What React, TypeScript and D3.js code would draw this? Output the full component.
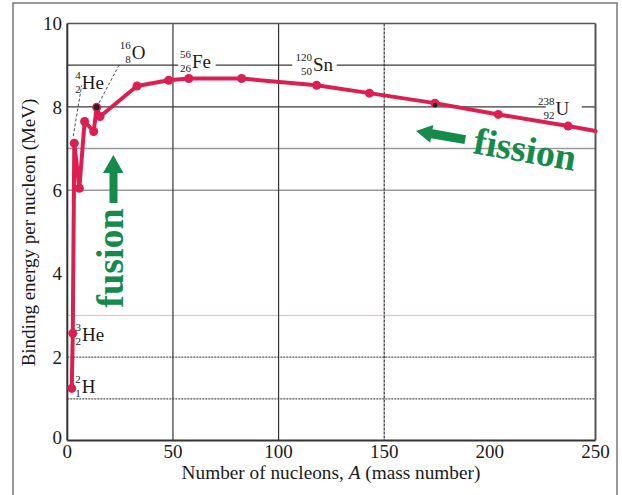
import React from "react";
import * as d3 from "d3";

// ---- data ----
const massNumber = [2.1, 2.6, 3.3, 5.7, 8.2, 12.5, 13.9, 15.5, 33, 48, 57.5, 82.5, 118, 143, 174, 204, 237, 250];
const bindingEnergy = [1.25, 2.57, 7.13, 6.05, 7.65, 7.41, 7.99, 7.77, 8.5, 8.64, 8.68, 8.68, 8.52, 8.33, 8.09, 7.82, 7.54, 7.42];
const hasMarker = [1, 1, 1, 1, 1, 1, 1, 1, 1, 1, 1, 1, 1, 1, 1, 1, 1, 0];

const xTicks = [0, 50, 100, 150, 200, 250];
const yTicks = [0, 2, 4, 6, 8, 10];
const hGridValues = [1, 2, 3, 6, 7, 8, 9];
const vGridValues = [50, 100, 150];

const nuclideSymbol = ["H", "He", "He", "O", "Fe", "Sn", "U"];
const nuclideMass = ["2", "3", "4", "16", "56", "120", "238"];
const nuclideCharge = ["1", "2", "2", "8", "26", "50", "92"];

const xTitle = "Number of nucleons, ";
const yTitle = "Binding energy per nucleon (MeV)";

// ---- layout ----
const W = 622;
const H = 495;
const X0 = 67.3, X1 = 595.5, Y0 = 440.5, Y1 = 23.5;
const RED = "#dc1f50";
const GREEN = "#148a4b";
const FONT = "'Liberation Serif', 'Times New Roman', serif";

// label anchors in data coordinates (symbol start x, baseline y)
const labelA = [6.8, 7.0, 6.8, 30.5, 59.0, 116.3, 231.1];
const labelE = [1.13, 2.39, 8.42, 9.14, 8.93, 8.85, 7.81];

export default function App() {
  const x = d3.scaleLinear().domain([0, 250]).range([X0, X1]);
  const y = d3.scaleLinear().domain([0, 10]).range([Y0, Y1]);
  const pts = massNumber.map((a, i) => [a, bindingEnergy[i]] as [number, number]);
  const line = d3.line<[number, number]>().x((d) => x(d[0])).y((d) => y(d[1]));

  const gridStyle = (v: number) => {
    if (v === 3) return { stroke: "#e8b4c2", strokeWidth: 1 };
    if (v === 6 || v === 7) return { stroke: "#9a9a9a", strokeWidth: 1.5 };
    if (v === 8 || v === 9) return { stroke: "#3a3a3a", strokeWidth: 1.2 };
    return { stroke: "#555", strokeWidth: 1.2, strokeDasharray: "2,1" };
  };

  // white gaps behind labels on grid lines
  const gaps: { a0: number; a1: number; e: number }[] = [
    { a0: 52.5, a1: 70.2, e: 9 },
    { a0: 106.5, a1: 127.5, e: 9 },
    { a0: 226.5, a1: 243.5, e: 8 },
  ];

  const nuclide = (i: number) => {
    const sx = x(labelA[i]);
    const sy = y(labelE[i]);
    return (
      <g key={"n" + i} fontFamily={FONT} fill="#1a1a1a">
        <text x={sx - 1} y={sy - 10} fontSize={11} textAnchor="end">
          {nuclideMass[i]}
        </text>
        <text x={sx - 1} y={sy + 4} fontSize={11} textAnchor="end">
          {nuclideCharge[i]}
        </text>
        <text x={sx} y={sy} fontSize={19}>
          {nuclideSymbol[i]}
        </text>
      </g>
    );
  };

  const o16 = pts[6];
  const he4 = pts[2];

  return (
    <svg
      width={W}
      height={H}
      style={{ position: "absolute", left: 0, top: 0, background: "#fff" }}
    >
      <rect x={0} y={0} width={W} height={H} fill="#fff" />
      {/* outer frame */}
      <rect x={13} y={3} width={604} height={510} fill="none" stroke="#777" strokeWidth={1.5} />

      {/* grid */}
      {hGridValues.map((v) => (
        <line key={"h" + v} x1={X0} x2={X1} y1={y(v)} y2={y(v)} {...gridStyle(v)} />
      ))}
      {vGridValues.map((v) => (
        <line
          key={"v" + v}
          x1={x(v)}
          x2={x(v)}
          y1={Y1}
          y2={Y0}
          stroke="#333"
          strokeWidth={1.2}
          strokeDasharray={v === 150 ? "3,1" : undefined}
        />
      ))}
      {gaps.map((g, i) => (
        <rect key={"g" + i} x={x(g.a0)} y={y(g.e) - 4} width={x(g.a1) - x(g.a0)} height={8} fill="#fff" />
      ))}

      {/* plot frame */}
      <line x1={X0} x2={X1} y1={Y1} y2={Y1} stroke="#555" strokeWidth={1.5} />
      <line x1={X1} x2={X1} y1={Y1} y2={Y0} stroke="#555" strokeWidth={2} />
      <line x1={X0} x2={X0} y1={Y1} y2={Y0} stroke="#333" strokeWidth={2} />
      <line x1={X0} x2={X1} y1={Y0} y2={Y0} stroke="#333" strokeWidth={2} />

      {/* tick labels */}
      {yTicks.map((v) => (
        <text
          key={"yt" + v}
          x={62}
          y={y(v) + (v === 0 ? -3 : 0)}
          dy="0.35em"
          textAnchor="end"
          fontFamily={FONT}
          fontSize={19}
          fill="#1a1a1a"
        >
          {v}
        </text>
      ))}
      {xTicks.map((v) => (
        <text key={"xt" + v} x={x(v)} y={458} textAnchor="middle" fontFamily={FONT} fontSize={19} fill="#1a1a1a">
          {v}
        </text>
      ))}

      {/* axis titles */}
      <text x={331} y={479} textAnchor="middle" fontFamily={FONT} fontSize={19.3} fill="#1a1a1a">
        {xTitle}
        <tspan fontStyle="italic">A</tspan>
        {" (mass number)"}
      </text>
      <text
        transform={`translate(35, ${(97 + 368) / 2}) rotate(-90)`}
        textAnchor="middle"
        fontFamily={FONT}
        fontSize={19}
        fill="#1a1a1a"
      >
        {yTitle}
      </text>

      {/* leader lines */}
      <line x1={x(he4[0]) - 1} y1={y(he4[1]) - 7} x2={x(6.8)} y2={y(8.42) - 4} stroke="#222" strokeWidth={0.8} strokeDasharray="3,2" />
      <line x1={x(o16[0])} y1={y(o16[1])} x2={x(25)} y2={y(9.05)} stroke="#222" strokeWidth={0.8} strokeDasharray="3,2" />

      {/* curve */}
      <path d={line(pts) || ""} fill="none" stroke={RED} strokeWidth={4} strokeLinejoin="round" strokeLinecap="round" />
      {pts.map((p, i) =>
        hasMarker[i] ? <circle key={"p" + i} cx={x(p[0])} cy={y(p[1])} r={4.5} fill={RED} /> : null
      )}
      <circle cx={x(o16[0])} cy={y(o16[1])} r={3} fill="#222" />
      <circle cx={x(pts[14][0])} cy={y(pts[14][1]) + 2} r={2.2} fill="#222" />

      {/* nuclide labels */}
      {nuclideSymbol.map((_, i) => nuclide(i))}

      {/* fusion arrow + text */}
      <path
        d={`M113.3,155 L123.5,173 L117.5,173 L117.5,203 L109.5,203 L109.5,173 L103,173 Z`}
        fill={GREEN}
      />
      <text
        transform="translate(123, 258) rotate(-90)"
        textAnchor="middle"
        fontFamily={FONT}
        fontWeight="bold"
        fontSize={38}
        fill={GREEN}
      >
        fusion
      </text>

      {/* fission arrow + text */}
      <g transform="translate(416, 131) rotate(10)">
        <path d="M0,0 L16,-9 L16,-4.5 L50,-4.5 L50,4.5 L16,4.5 L16,9 Z" fill={GREEN} />
      </g>
      <text
        transform="translate(472, 153) rotate(10)"
        fontFamily={FONT}
        fontWeight="bold"
        fontSize={38}
        fill={GREEN}
      >
        fission
      </text>
    </svg>
  );
}
